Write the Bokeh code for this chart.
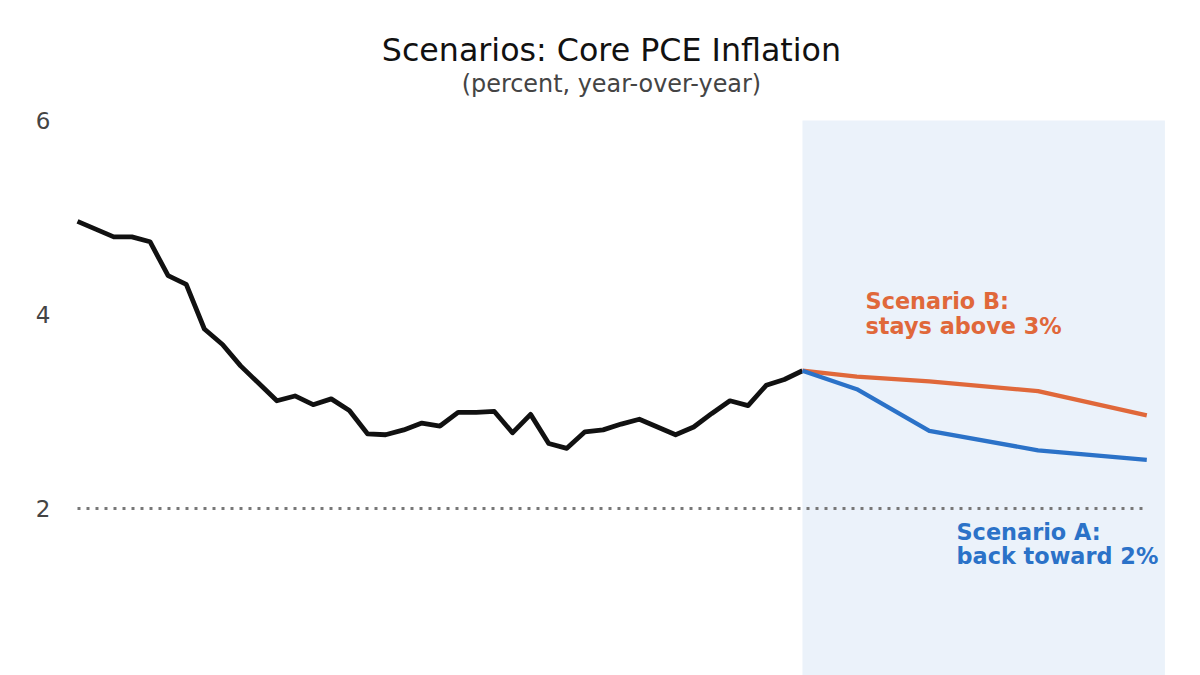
from bokeh.plotting import figure
from bokeh.models import BoxAnnotation, FixedTicker, Range1d
from bokeh.core.properties import value
from bokeh.embed import file_html
from bokeh.resources import INLINE

# Monthly core PCE inflation (percent, y/y), history
hist_month = list(range(41))
hist_pce = [4.96, 4.88, 4.80, 4.80, 4.75, 4.40, 4.31, 3.85, 3.69, 3.47,
            3.29, 3.11, 3.16, 3.07, 3.13, 3.01, 2.77, 2.76, 2.81, 2.88,
            2.85, 2.99, 2.99, 3.00, 2.78, 2.97, 2.67, 2.62, 2.79, 2.81,
            2.87, 2.92, 2.84, 2.76, 2.84, 2.98, 3.11, 3.06, 3.27, 3.33,
            3.42]

# Scenario paths starting from the last observed month
scen_month = [40, 43, 47, 53, 59]
scenario_a = [3.42, 3.23, 2.80, 2.60, 2.50]
scenario_b = [3.42, 3.36, 3.31, 3.21, 2.96]

TARGET = 2.0
y_ticks = [2, 4, 6]
scenario_window = (40, 60)

FONT = "DejaVu Sans"
ORANGE = "#E0683A"
BLUE = "#2B72C8"

p = figure(width=1200, height=675, output_backend="svg", toolbar_location=None,
           x_axis_location=None, min_border_left=60, min_border_right=20,
           min_border_top=0, min_border_bottom=0)
p.x_range = Range1d(-0.938, 60.86)
p.y_range = Range1d(0.278, 7.237)
p.outline_line_color = None
p.grid.visible = False
p.background_fill_color = "white"
p.border_fill_color = "white"

# Forecast window shading
p.add_layout(BoxAnnotation(left=scenario_window[0], right=scenario_window[1], top=6,
                           fill_color="#EBF2FA", fill_alpha=1.0, line_color=None,
                           level="underlay"))

# 2% target reference line
p.line([hist_month[0], scen_month[-1]], [TARGET, TARGET], line_color="#777777",
       line_width=3, line_dash="3 6")

p.line(hist_month, hist_pce, line_color="#111111", line_width=4.8, line_join="round")
p.line(scen_month, scenario_b, line_color=ORANGE, line_width=4.3, line_join="round")
p.line(scen_month, scenario_a, line_color=BLUE, line_width=4.3, line_join="round")

# Titles
p.text(x=[29.46], y=[6.722], text=["Scenarios: Core PCE Inflation"], text_font=value(FONT),
       text_font_size="31.7px", text_color="#111111", text_align="center",
       text_baseline="alphabetic")
p.text(x=[29.46], y=[6.381], text=["(percent, year-over-year)"], text_font=value(FONT),
       text_font_size="23.9px", text_color="#444444", text_align="center",
       text_baseline="alphabetic")

# Scenario labels
p.text(x=[43.48, 43.48], y=[4.134, 3.886], text=["Scenario B:", "stays above 3%"],
       text_font=value(FONT), text_font_size="22.4px", text_font_style="bold",
       text_color=ORANGE, text_align="left", text_baseline="alphabetic")
p.text(x=[48.50, 48.50], y=[1.753, 1.505], text=["Scenario A:", "back toward 2%"],
       text_font=value(FONT), text_font_size="22.4px", text_font_style="bold",
       text_color=BLUE, text_align="left", text_baseline="alphabetic")

ax = p.yaxis[0]
ax.ticker = FixedTicker(ticks=y_ticks)
ax.axis_line_color = None
ax.major_tick_line_color = None
ax.minor_tick_line_color = None
ax.major_tick_out = 0
ax.major_label_standoff = 10
ax.major_label_text_font = FONT
ax.major_label_text_font_size = "23px"
ax.major_label_text_color = "#444444"

open("out.html", "w").write(file_html(p, INLINE))
